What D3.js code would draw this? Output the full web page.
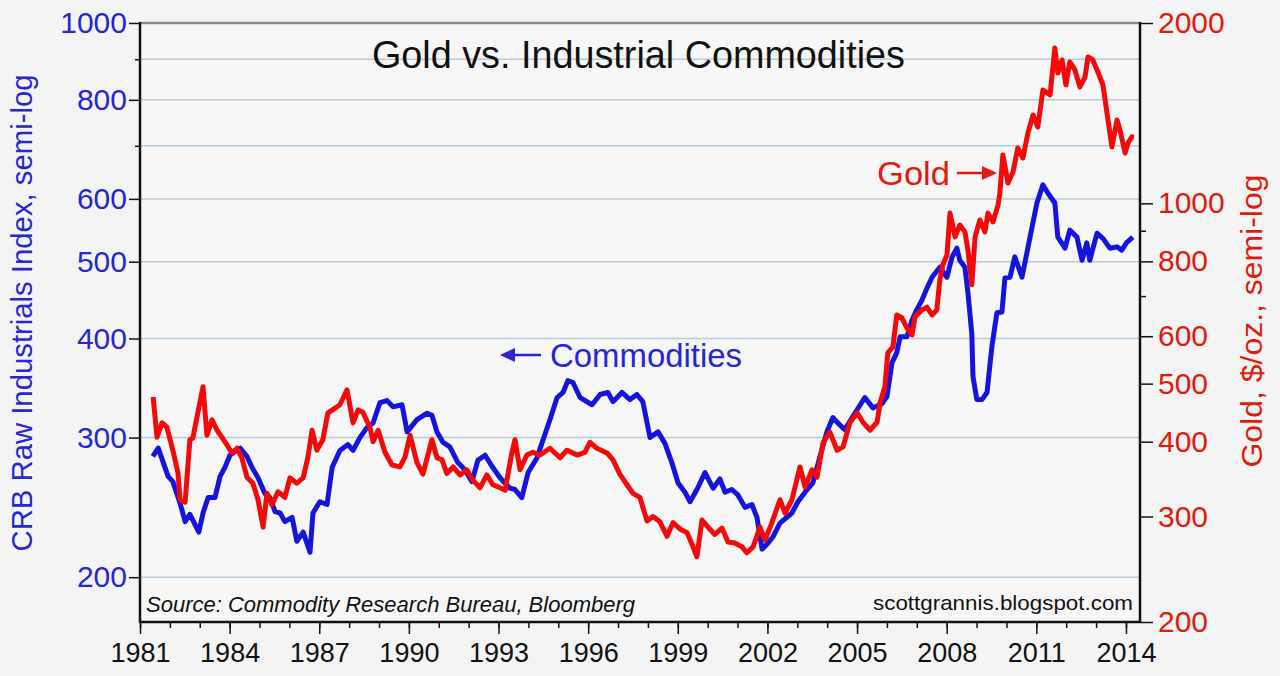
<!DOCTYPE html>
<html>
<head>
<meta charset="utf-8">
<script src="https://cdn.jsdelivr.net/npm/d3@7"></script>
<style>
  html, body { margin: 0; padding: 0; background: #f4f4f4; }
  svg { display: block; }
  text { font-family: "Liberation Sans", Arial, sans-serif; }
</style>
</head>
<body>
<svg id="chart" width="1280" height="676"></svg>
<script>
// ---------------- DATA ----------------
const commYears = [1981.43,1981.61,1981.94,1982.10,1982.34,1982.51,1982.67,1982.97,1983.11,1983.28,1983.51,1983.68,1983.84,1984.01,1984.35,1984.58,1984.75,1984.95,1985.18,1985.35,1985.52,1985.69,1985.85,1986.09,1986.25,1986.46,1986.69,1986.79,1987.02,1987.26,1987.43,1987.69,1987.96,1988.13,1988.36,1988.60,1988.80,1989.03,1989.27,1989.47,1989.77,1989.94,1990.27,1990.61,1990.77,1990.94,1991.14,1991.37,1991.64,1991.88,1992.11,1992.31,1992.55,1992.81,1993.05,1993.38,1993.55,1993.78,1993.99,1994.29,1994.49,1994.72,1994.96,1995.16,1995.32,1995.49,1995.73,1996.13,1996.40,1996.66,1996.83,1997.13,1997.40,1997.63,1997.83,1998.07,1998.34,1998.57,1998.80,1999.01,1999.24,1999.41,1999.64,1999.91,2000.18,2000.41,2000.58,2000.81,2001.01,2001.25,2001.48,2001.65,2001.82,2001.98,2002.19,2002.42,2002.82,2003.02,2003.26,2003.52,2003.76,2003.99,2004.19,2004.43,2004.59,2004.86,2005.26,2005.53,2005.83,2006.00,2006.17,2006.33,2006.44,2006.67,2006.84,2007.00,2007.17,2007.34,2007.51,2007.77,2008.01,2008.18,2008.34,2008.44,2008.61,2008.71,2008.84,2008.88,2009.01,2009.18,2009.35,2009.51,2009.68,2009.85,2009.95,2010.12,2010.28,2010.52,2010.79,2011.02,2011.22,2011.39,2011.62,2011.72,2011.96,2012.12,2012.36,2012.53,2012.69,2012.79,2013.03,2013.23,2013.46,2013.70,2013.86,2014.03,2014.23];
const commValues = [284,291,268,264,248,235,240,228,241,252,252,268,275,285,291,284,275,267,255,252,242,241,235,238,222,228,215,241,249,247,275,289,294,289,300,309,313,332,334,328,330,305,316,322,320,305,296,292,279,273,264,281,285,275,267,259,258,252,271,283,298,316,337,342,354,352,337,330,340,342,333,342,335,340,333,300,305,295,279,263,256,249,258,271,259,266,256,258,254,245,247,238,217,220,225,234,241,249,256,263,284,305,318,311,307,319,337,327,331,338,373,384,402,402,422,435,447,463,478,492,478,507,520,502,492,457,406,358,335,335,342,390,431,432,477,478,507,478,537,593,625,610,593,537,520,548,537,502,528,502,543,535,520,522,517,529,537];

const goldYears = [1981.44,1981.57,1981.74,1981.90,1982.10,1982.27,1982.34,1982.51,1982.67,1982.77,1982.94,1983.11,1983.24,1983.41,1983.58,1983.74,1983.91,1984.08,1984.25,1984.41,1984.58,1984.78,1984.95,1985.12,1985.25,1985.42,1985.62,1985.85,1986.02,1986.25,1986.46,1986.62,1986.76,1986.92,1987.12,1987.29,1987.53,1987.69,1987.93,1988.13,1988.30,1988.46,1988.70,1988.80,1988.97,1989.20,1989.43,1989.70,1989.87,1990.04,1990.27,1990.47,1990.77,1990.94,1991.11,1991.27,1991.48,1991.71,1991.94,1992.14,1992.38,1992.61,1992.81,1993.05,1993.22,1993.45,1993.55,1993.72,1993.95,1994.15,1994.39,1994.72,1995.06,1995.29,1995.63,1995.89,1996.06,1996.29,1996.63,1996.83,1997.06,1997.30,1997.50,1997.73,1997.97,1998.17,1998.40,1998.64,1998.84,1999.07,1999.31,1999.51,1999.64,1999.81,2000.01,2000.24,2000.48,2000.68,2000.91,2001.15,2001.31,2001.52,2001.75,2001.92,2002.15,2002.42,2002.59,2002.82,2003.09,2003.26,2003.49,2003.66,2003.86,2004.09,2004.33,2004.53,2004.76,2005.00,2005.20,2005.43,2005.67,2005.77,2005.93,2006.03,2006.20,2006.33,2006.50,2006.67,2006.84,2006.94,2007.17,2007.34,2007.51,2007.67,2007.77,2007.87,2008.01,2008.11,2008.28,2008.44,2008.61,2008.71,2008.84,2008.95,2009.11,2009.28,2009.38,2009.55,2009.72,2009.78,2009.88,2010.05,2010.22,2010.38,2010.55,2010.72,2010.89,2011.05,2011.22,2011.46,2011.62,2011.72,2011.86,2011.99,2012.12,2012.29,2012.46,2012.63,2012.73,2012.89,2013.06,2013.23,2013.40,2013.53,2013.70,2013.80,2013.97,2014.07,2014.20,2014.27];
const goldValues = [475,407,430,423,387,355,320,317,403,406,448,494,410,435,418,407,395,383,390,376,349,341,320,288,328,314,330,323,348,341,348,377,418,387,403,447,455,461,488,430,452,448,422,400,418,384,366,363,377,410,369,353,403,376,373,354,363,352,359,345,335,352,339,335,332,384,403,359,380,384,380,390,376,387,380,384,399,390,383,373,353,339,328,323,295,300,294,278,293,286,282,267,257,296,288,280,287,272,271,267,261,267,288,274,293,320,304,320,363,336,359,349,398,415,387,392,430,447,431,418,431,464,494,563,576,651,644,619,603,646,664,671,651,664,745,789,820,963,879,920,896,836,731,879,938,896,963,931,994,1040,1204,1081,1128,1237,1190,1311,1404,1341,1546,1517,1817,1650,1735,1576,1722,1670,1564,1625,1755,1735,1657,1576,1377,1242,1377,1326,1213,1261,1291,1290];

const xLabelYears = [1981,1984,1987,1990,1993,1996,1999,2002,2005,2008,2011,2014];
const xMinorYears = d3.range(1981, 2015);
const leftTicks = [200,300,400,500,600,800,1000];
const leftMinor = [700,900];
const rightTicks = [200,300,400,500,600,800,1000,2000];
const rightMinor = [700,900];
const gridValues = [200,300,400,500,600,700,800,900];

const titleText = "Gold vs. Industrial Commodities";
const leftTitle = "CRB Raw Industrials Index, semi-log";
const rightTitle = "Gold, $/oz., semi-log";
const sourceText = "Source: Commodity Research Bureau, Bloomberg";
const siteText = "scottgrannis.blogspot.com";
const goldLabel = "Gold";
const commLabel = "Commodities";

// ---------------- SCALES ----------------
const L = 140, R = 1140, T = 23, B = 622;
const BLUE = "#1414dc", BLUE_TXT = "#2626d2", RED = "#f40808", RED_TXT = "#e3190c";

const x = d3.scaleLinear().domain([1981, 2014.47]).range([L, R]);
const yL = d3.scaleLog().domain([175.6, 1000]).range([B, T]);
const yR = d3.scaleLog().domain([200, 2000]).range([B, T]);

const svg = d3.select("#chart");
svg.append("rect").attr("width", 1280).attr("height", 676).attr("fill", "#f4f4f4");
svg.append("rect").attr("x", L).attr("y", T).attr("width", R - L).attr("height", B - T).attr("fill", "#f7f7f7");

// gridlines
svg.append("g").selectAll("line").data(gridValues).join("line")
  .attr("x1", L).attr("x2", R)
  .attr("y1", d => yL(d)).attr("y2", d => yL(d))
  .attr("stroke", "#b7cadb").attr("stroke-width", 1.5);

// title
svg.append("text").attr("x", 372).attr("y", 68)
  .attr("font-size", 38).attr("fill", "#111")
  .attr("textLength", 533).attr("lengthAdjust", "spacingAndGlyphs")
  .text(titleText);

// lines
const commData = commYears.map((d, i) => ({ x: d, v: commValues[i] }));
const goldData = goldYears.map((d, i) => ({ x: d, v: goldValues[i] }));

svg.append("path").datum(commData)
  .attr("d", d3.line().x(d => x(d.x)).y(d => yL(d.v)))
  .attr("fill", "none").attr("stroke", BLUE).attr("stroke-width", 5)
  .attr("stroke-linejoin", "round");
svg.append("path").datum(goldData)
  .attr("d", d3.line().x(d => x(d.x)).y(d => yR(d.v)))
  .attr("fill", "none").attr("stroke", RED).attr("stroke-width", 5)
  .attr("stroke-linejoin", "round");

// frame
svg.append("line").attr("x1", L).attr("x2", R).attr("y1", T).attr("y2", T)
  .attr("stroke", "#8a8a8a").attr("stroke-width", 2.5);
svg.append("line").attr("x1", L).attr("x2", L).attr("y1", T - 1).attr("y2", B + 1)
  .attr("stroke", "#111").attr("stroke-width", 2.5);
svg.append("line").attr("x1", R).attr("x2", R).attr("y1", T - 1).attr("y2", B + 1)
  .attr("stroke", "#111").attr("stroke-width", 2.5);
svg.append("line").attr("x1", L).attr("x2", R).attr("y1", B).attr("y2", B)
  .attr("stroke", "#111").attr("stroke-width", 2.5);

// axes
function styleAxis(g) {
  g.select(".domain").remove();
  g.selectAll(".tick line").attr("stroke", "#111").attr("stroke-width", 1.5);
}

// left axis
svg.append("g").attr("transform", `translate(${L},0)`)
  .call(d3.axisLeft(yL).tickValues(leftTicks).tickSize(11).tickPadding(2).tickFormat(d3.format("d")))
  .call(styleAxis)
  .call(g => g.selectAll(".tick text").attr("fill", BLUE_TXT).attr("font-size", 30)
      .attr("font-family", "'Liberation Sans', Arial, sans-serif"));
svg.append("g").attr("transform", `translate(${L},0)`)
  .call(d3.axisLeft(yL).tickValues(leftMinor).tickSize(5).tickFormat(""))
  .call(styleAxis);

// right axis
svg.append("g").attr("transform", `translate(${R},0)`)
  .call(d3.axisRight(yR).tickValues(rightTicks).tickSize(13).tickPadding(5).tickFormat(d3.format("d")))
  .call(styleAxis)
  .call(g => g.selectAll(".tick text").attr("fill", RED_TXT).attr("font-size", 30)
      .attr("font-family", "'Liberation Sans', Arial, sans-serif"));
svg.append("g").attr("transform", `translate(${R},0)`)
  .call(d3.axisRight(yR).tickValues(rightMinor).tickSize(6).tickFormat(""))
  .call(styleAxis);

// bottom axis
svg.append("g").attr("transform", `translate(0,${B})`)
  .call(d3.axisBottom(x).tickValues(xMinorYears).tickSize(6).tickFormat(""))
  .call(styleAxis);
svg.append("g").attr("transform", `translate(0,${B})`)
  .call(d3.axisBottom(x).tickValues(xLabelYears).tickSize(12).tickFormat(d3.format("d")))
  .call(styleAxis)
  .call(g => g.selectAll(".tick text").attr("fill", "#111").attr("font-size", 27)
      .attr("y", 40).attr("dy", 0)
      .attr("font-family", "'Liberation Sans', Arial, sans-serif"));

// axis titles
svg.append("text").attr("transform", "translate(32,313) rotate(-90)")
  .attr("text-anchor", "middle").attr("font-size", 30).attr("fill", BLUE_TXT)
  .attr("textLength", 477).attr("lengthAdjust", "spacingAndGlyphs")
  .text(leftTitle);
svg.append("text").attr("transform", "translate(1262,321) rotate(-90)")
  .attr("text-anchor", "middle").attr("font-size", 30).attr("fill", RED_TXT)
  .attr("textLength", 293).attr("lengthAdjust", "spacingAndGlyphs")
  .text(rightTitle);

// source / site
svg.append("text").attr("x", 146).attr("y", 612)
  .attr("font-size", 22).attr("font-style", "italic").attr("fill", "#111")
  .attr("textLength", 489).attr("lengthAdjust", "spacingAndGlyphs")
  .text(sourceText);
svg.append("text").attr("x", 873).attr("y", 610)
  .attr("font-size", 21).attr("fill", "#111")
  .attr("textLength", 260).attr("lengthAdjust", "spacingAndGlyphs")
  .text(siteText);

// annotations
svg.append("text").attr("x", 877).attr("y", 185)
  .attr("font-size", 33).attr("fill", RED_TXT)
  .attr("textLength", 73).attr("lengthAdjust", "spacingAndGlyphs")
  .text(goldLabel);
svg.append("line").attr("x1", 957).attr("x2", 984).attr("y1", 173).attr("y2", 173)
  .attr("stroke", RED_TXT).attr("stroke-width", 2.5);
svg.append("path").attr("d", "M982,166 L997,173 L982,180 Z").attr("fill", RED_TXT);

svg.append("text").attr("x", 550).attr("y", 367)
  .attr("font-size", 33).attr("fill", BLUE_TXT)
  .attr("textLength", 192).attr("lengthAdjust", "spacingAndGlyphs")
  .text(commLabel);
svg.append("line").attr("x1", 512).attr("x2", 541).attr("y1", 355).attr("y2", 355)
  .attr("stroke", BLUE_TXT).attr("stroke-width", 2.5);
svg.append("path").attr("d", "M515,348 L500,355 L515,362 Z").attr("fill", BLUE_TXT);
</script>
</body>
</html>
